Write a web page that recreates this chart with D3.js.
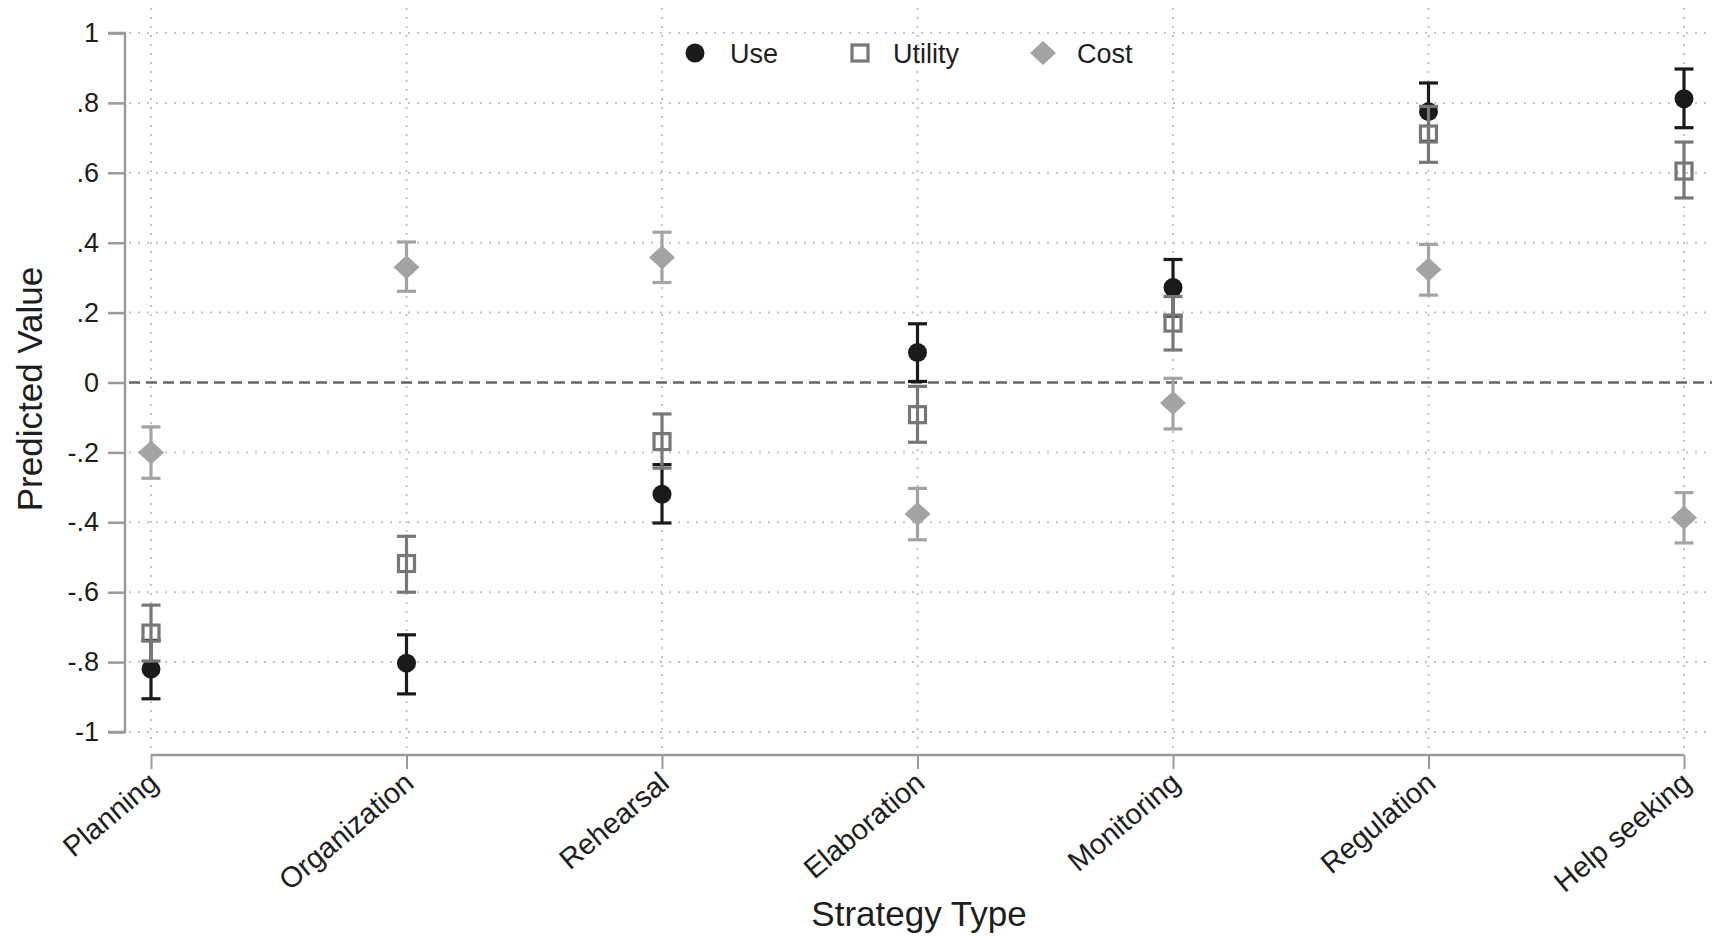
<!DOCTYPE html>
<html>
<head>
<meta charset="utf-8">
<script src="https://cdn.jsdelivr.net/npm/d3@7"></script>
<style>
  html, body { margin: 0; padding: 0; background: #fff; }
  svg { display: block; font-family: "Liberation Sans", Arial, Helvetica, sans-serif; }
</style>
</head>
<body>
<svg id="chart" width="1717" height="939"></svg>
<script>
const categories = ["Planning", "Organization", "Rehearsal", "Elaboration", "Monitoring", "Regulation", "Help seeking"];

const useVal = [-0.82, -0.803, -0.32, 0.086, 0.272, 0.775, 0.812];
const useLo  = [-0.905, -0.891, -0.402, 0.003, 0.19, 0.69, 0.729];
const useHi  = [-0.738, -0.722, -0.235, 0.168, 0.352, 0.857, 0.897];

const utilVal = [-0.717, -0.518, -0.169, -0.092, 0.17, 0.711, 0.605];
const utilLo  = [-0.797, -0.60, -0.245, -0.171, 0.093, 0.63, 0.528];
const utilHi  = [-0.637, -0.44, -0.09, -0.011, 0.246, 0.79, 0.688];

const costVal = [-0.20, 0.330, 0.358, -0.376, -0.059, 0.323, -0.387];
const costLo  = [-0.274, 0.261, 0.286, -0.45, -0.133, 0.25, -0.459];
const costHi  = [-0.127, 0.402, 0.43, -0.303, 0.012, 0.395, -0.315];

const yTicks = [-1, -0.8, -0.6, -0.4, -0.2, 0, 0.2, 0.4, 0.6, 0.8, 1];
const yTickLabels = ["-1", "-.8", "-.6", "-.4", "-.2", "0", ".2", ".4", ".6", ".8", "1"];

const seriesNames = ["Use", "Utility", "Cost"];

const svg = d3.select("#chart");

const x = d3.scalePoint().domain(categories).range([151, 1684]);
const y = d3.scaleLinear().domain([-1, 1]).range([732, 33]);

const plotLeft = 129, plotRight = 1712, plotTop = 8, xAxisY = 755;

// Grid lines
const grid = svg.append("g");
grid.selectAll("line.hg").data(yTicks).join("line")
  .attr("x1", plotLeft).attr("x2", plotRight)
  .attr("y1", d => y(d)).attr("y2", d => y(d))
  .attr("stroke", "#c4c4c4").attr("stroke-width", 2)
  .attr("stroke-dasharray", "2,7")
  .attr("visibility", d => d === 0 ? "hidden" : "visible");
grid.selectAll("line.vg").data(categories).join("line")
  .attr("x1", d => x(d)).attr("x2", d => x(d))
  .attr("y1", plotTop).attr("y2", xAxisY - 2)
  .attr("stroke", "#c4c4c4").attr("stroke-width", 2)
  .attr("stroke-dasharray", "2,7");

// Zero reference line
svg.append("line")
  .attr("x1", plotLeft).attr("x2", plotRight)
  .attr("y1", y(0)).attr("y2", y(0))
  .attr("stroke", "#666666").attr("stroke-width", 2.6)
  .attr("stroke-dasharray", "11,6");

// Y axis
const yAxis = d3.axisLeft(y).tickValues(yTicks)
  .tickFormat((d, i) => yTickLabels[i]).tickSize(17).tickPadding(9);
const gy = svg.append("g").attr("transform", "translate(125,0)").call(yAxis);
gy.select(".domain").attr("stroke", "#9a9a9a").attr("stroke-width", 2.5)
  .attr("d", `M-17,${y(1)}H0V${y(-1)}H-17`);
gy.selectAll(".tick line").attr("stroke", "#9a9a9a").attr("stroke-width", 2.5);
gy.selectAll(".tick text").attr("font-size", 27).attr("fill", "#1e1e1e")
  .attr("font-family", "Liberation Sans, Arial, sans-serif");

// X axis
const xAxis = d3.axisBottom(x).tickSize(14).tickFormat(d => d);
const gx = svg.append("g").attr("transform", `translate(0,${xAxisY})`).call(xAxis);
gx.select(".domain").attr("stroke", "#9a9a9a").attr("stroke-width", 2.5)
  .attr("d", `M${x(categories[0])},0H${x(categories[categories.length - 1])}`);
gx.selectAll(".tick line").attr("stroke", "#9a9a9a").attr("stroke-width", 2);
gx.selectAll(".tick text")
  .attr("font-size", 29).attr("fill", "#1e1e1e")
  .attr("font-family", "Liberation Sans, Arial, sans-serif")
  .attr("text-anchor", "end")
  .attr("x", 0).attr("y", 0).attr("dy", "0.35em")
  .attr("transform", "translate(2,23) rotate(-40)");

// Series drawing
const series = [
  { name: "Use", val: useVal, lo: useLo, hi: useHi, color: "#1a1a1a", shape: "circle" },
  { name: "Utility", val: utilVal, lo: utilLo, hi: utilHi, color: "#777777", shape: "square" },
  { name: "Cost", val: costVal, lo: costLo, hi: costHi, color: "#a3a3a3", shape: "diamond" }
];

const capW = 19;
function drawMarker(g, shape, color, cx, cy) {
  if (shape === "circle") {
    g.append("circle").attr("cx", cx).attr("cy", cy).attr("r", 9.5).attr("fill", color);
  } else if (shape === "square") {
    g.append("rect").attr("x", cx - 8).attr("y", cy - 8).attr("width", 16).attr("height", 16)
      .attr("fill", "none").attr("stroke", color).attr("stroke-width", 3.2);
  } else {
    const h = 13, v = 12;
    g.append("path").attr("d", `M${cx},${cy - v}L${cx + h},${cy}L${cx},${cy + v}L${cx - h},${cy}Z`)
      .attr("fill", color);
  }
}

series.forEach(s => {
  const g = svg.append("g");
  categories.forEach((c, i) => {
    const cx = x(c);
    g.append("line").attr("x1", cx).attr("x2", cx)
      .attr("y1", y(s.lo[i])).attr("y2", y(s.hi[i]))
      .attr("stroke", s.color).attr("stroke-width", 3.2);
    [s.lo[i], s.hi[i]].forEach(v => {
      g.append("line").attr("x1", cx - capW / 2).attr("x2", cx + capW / 2)
        .attr("y1", y(v)).attr("y2", y(v))
        .attr("stroke", s.color).attr("stroke-width", 3.2);
    });
  });
  categories.forEach((c, i) => drawMarker(g, s.shape, s.color, x(c), y(s.val[i])));
});

// Legend
const legendX = [695, 860, 1043];
const legendTextX = [730, 893, 1077];
const legend = svg.append("g");
series.forEach((s, i) => {
  drawMarker(legend, s.shape, s.color, legendX[i], 53);
  legend.append("text").attr("x", legendTextX[i]).attr("y", 63)
    .attr("font-size", 27).attr("fill", "#1e1e1e").text(seriesNames[i]);
});

// Axis titles
svg.append("text").attr("x", 919).attr("y", 926).attr("text-anchor", "middle")
  .attr("font-size", 35).attr("fill", "#1e1e1e").text("Strategy Type");
svg.append("text").attr("transform", "translate(42,389) rotate(-90)")
  .attr("text-anchor", "middle").attr("font-size", 35).attr("fill", "#1e1e1e")
  .text("Predicted Value");
</script>
</body>
</html>
